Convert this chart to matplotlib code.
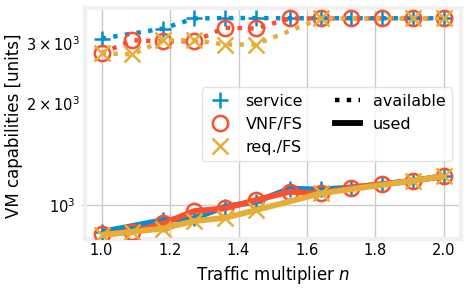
import matplotlib
matplotlib.use("Agg")
import matplotlib.pyplot as plt
from matplotlib.lines import Line2D
import numpy as np

# Traffic multiplier values
n_all = [1.0, 1.09, 1.18, 1.27, 1.36, 1.45, 1.55, 1.64, 1.73, 1.82, 1.91, 2.0]
n_service = [1.0, 1.18, 1.27, 1.36, 1.45, 1.55, 1.64, 1.73, 1.82, 1.91, 2.0]
n_req = [1.0, 1.09, 1.18, 1.27, 1.36, 1.45, 1.64, 1.91, 2.0]

# available capabilities
service_avail = [3100, 3320, 3555, 3565, 3565, 3560, 3560, 3560, 3560, 3560, 3560]
vnf_avail = [2805, 3066, 3045, 3045, 3336, 3321, 3555, 3555, 3555, 3555, 3555, 3555]
req_avail = [2805, 2785, 3066, 3066, 2978, 2978, 3555, 3555, 3555]

# used capabilities
service_used = [834, 903, 914, 989, 1023, 1118, 1112, 1127, 1153, 1180, 1218]
vnf_used = [820, 834, 883, 960, 978, 1034, 1095, 1083, 1127, 1153, 1180, 1218]
req_used = [816, 834, 853, 897, 917, 966, 1083, 1180, 1218]

labels = ["service", "VNF/FS", "req./FS"]
colors = ["#008fd5", "#fc4f30", "#e5ae38"]
markers = ["+", "o", "x"]

fig = plt.figure(figsize=(4.67, 2.91), dpi=100)
ax = fig.add_axes([84.5 / 467, 1 - 238.5 / 291, (461 - 84.5) / 467, (238.5 - 7.5) / 291])
ax.set_facecolor("white")
fig.patch.set_facecolor("white")

series = [
    (n_service, service_avail, service_used),
    (n_all, vnf_avail, vnf_used),
    (n_req, req_avail, req_used),
]
for (xs, av, us), c, m in zip(series, colors, markers):
    mfc = "none" if m == "o" else c
    ax.plot(xs, av, linestyle=":", color=c, lw=3.2, marker=m, ms=11,
            mew=1.8, mfc=mfc, mec=c, zorder=3)
    ax.plot(xs, us, linestyle="-", color=c, lw=4.2, marker=m, ms=11,
            mew=1.8, mfc=mfc, mec=c, zorder=3, solid_capstyle="butt")

ax.set_yscale("log")
ax.set_ylim(797, 3830)
ax.set_xticks([1.0, 1.2, 1.4, 1.6, 1.8, 2.0])

ax.grid(True, which="major", color="#cbcbcb", lw=1.0)
ax.set_axisbelow(True)
for s in ax.spines.values():
    s.set_color("#f0f0f0")
    s.set_linewidth(3.0)
ax.tick_params(which="both", length=0, labelsize=10.5, colors="black")
ax.tick_params(axis="y", which="major", length=3, color="#cbcbcb")

ax.set_xlabel("Traffic multiplier $n$", fontsize=12, labelpad=4)
ax.set_ylabel("VM capabilities [units]", fontsize=12)
ax.yaxis.set_label_coords(-0.163, 0.49)

handles = [
    Line2D([], [], ls="none", marker="+", ms=11, mew=1.8, color=colors[0]),
    Line2D([], [], ls="none", marker="o", ms=11, mew=1.8, mfc="none", mec=colors[1]),
    Line2D([], [], ls="none", marker="x", ms=11, mew=1.8, color=colors[2]),
    Line2D([], [], ls=":", lw=3.2, color="black"),
    Line2D([], [], ls="-", lw=4.2, color="black"),
]
leg = ax.legend(handles, labels + ["available", "used"], ncol=2,
                loc="lower right", bbox_to_anchor=(0.976, 0.335),
                borderaxespad=0, fontsize=11.5, frameon=True, fancybox=True,
                handlelength=1.56, columnspacing=2.0, labelspacing=0.5)
leg.get_frame().set_edgecolor("#dddddd")
leg.get_frame().set_facecolor("white")

fig.savefig("out.png", dpi=100, facecolor="white")
